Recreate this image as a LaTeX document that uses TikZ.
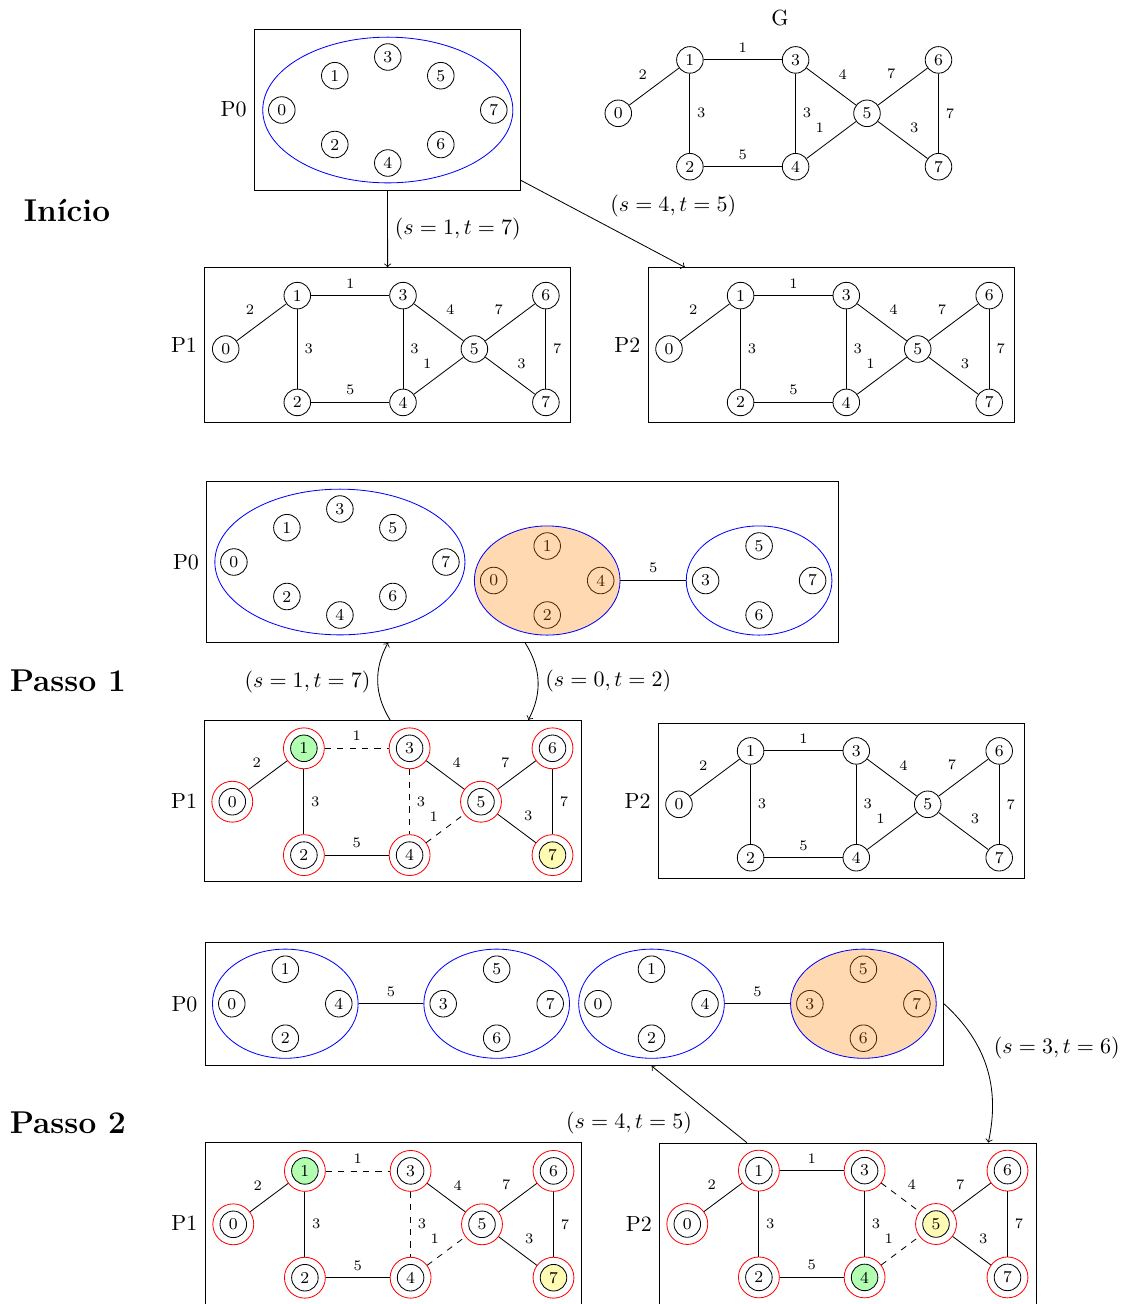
\documentclass[tikz,border=0pt]{standalone}
\usepackage{graphicx}
\usetikzlibrary{shapes.geometric}

% The weighted graph: vertex 0 at the scope origin, names #1-0 ... #1-7
\newcommand\netgraph[1]{%
  \node[gv,gv0] (#1-0) at (0,0) {0};
  \node[gv,gv1] (#1-1) at (71.6,-53.4) {1};
  \node[gv,gv2] (#1-2) at (71.6,53.4) {2};
  \node[gv,gv3] (#1-3) at (177.3,-53.4) {3};
  \node[gv,gv4] (#1-4) at (177.3,53.4) {4};
  \node[gv,gv5] (#1-5) at (248.7,0) {5};
  \node[gv,gv6] (#1-6) at (320.2,-53.4) {6};
  \node[gv,gv7] (#1-7) at (320.2,53.4) {7};
  \draw[ge,ge01] (#1-0) -- node[wt,above left] {2} (#1-1);
  \draw[ge,ge13] (#1-1) -- node[wt,above] {1} (#1-3);
  \draw[ge,ge12] (#1-1) -- node[wt,right] {3} (#1-2);
  \draw[ge,ge24] (#1-2) -- node[wt,above] {5} (#1-4);
  \draw[ge,ge34] (#1-3) -- node[wt,right] {3} (#1-4);
  \draw[ge,ge35] (#1-3) -- node[wt,above right] {4} (#1-5);
  \draw[ge,ge45] (#1-4) -- node[wt,above left] {1} (#1-5);
  \draw[ge,ge56] (#1-5) -- node[wt,above left] {7} (#1-6);
  \draw[ge,ge57] (#1-5) -- node[wt,above right] {3} (#1-7);
  \draw[ge,ge67] (#1-6) -- node[wt,right] {7} (#1-7);
}

% A single component holding all eight vertices
\newcommand\bigcluster[1]{%
  \node[gv] (#1-0) at (-106,0) {0};
  \node[gv] (#1-1) at (-53,-34.3) {1};
  \node[gv] (#1-2) at (-53,34.5) {2};
  \node[gv] (#1-3) at (0,-53) {3};
  \node[gv] (#1-4) at (0,53) {4};
  \node[gv] (#1-5) at (53,-34.3) {5};
  \node[gv] (#1-6) at (53,34.5) {6};
  \node[gv] (#1-7) at (106,0) {7};
  \node[bigset] (#1) at (0,0) {};
}
% Component {0,1,2,4}
\newcommand\lowcluster[2]{%
  \node[gv] (#1-0) at (-53.5,0) {0};
  \node[gv] (#1-1) at (0,-34.5) {1};
  \node[gv] (#1-2) at (0,34.5) {2};
  \node[gv] (#1-4) at (53.5,0) {4};
  \node[smallset,#2] (#1) at (0,0) {};
}
% Component {3,5,6,7}
\newcommand\highcluster[2]{%
  \node[gv] (#1-3) at (-53.5,0) {3};
  \node[gv] (#1-5) at (0,-34.5) {5};
  \node[gv] (#1-6) at (0,34.5) {6};
  \node[gv] (#1-7) at (53.5,0) {7};
  \node[smallset,#2] (#1) at (0,0) {};
}

\newcommand\labelfont{\fontsize{10.55}{12.7}\selectfont}
\newcommand\phasefont{\fontsize{15.2}{18}\selectfont\bfseries}
\newcommand\pair[2]{\scalebox{1.06}{$(s=#1,t=#2)$}}

\begin{document}
\begin{tikzpicture}[x=0.4818pt, y=-0.4818pt,
  gv/.style={circle, draw, minimum size=12.8pt, inner sep=0pt, font=\footnotesize},
  gring/.style={outer sep=3.6pt,
    label={[circle, draw=red, minimum size=19.7pt, inner sep=0pt, outer sep=0pt]center:{}}},
  gv0/.style={}, gv1/.style={}, gv2/.style={}, gv3/.style={},
  gv4/.style={}, gv5/.style={}, gv6/.style={}, gv7/.style={},
  ge/.style={draw},
  ge01/.style={}, ge12/.style={}, ge13/.style={}, ge24/.style={}, ge34/.style={},
  ge35/.style={}, ge45/.style={}, ge56/.style={}, ge57/.style={}, ge67/.style={},
  wt/.style={font=\scriptsize},
  pbox/.style={draw, rectangle, inner sep=0pt},
  bigset/.style={ellipse, draw=blue, minimum width=120.5pt, minimum height=70.2pt, inner sep=0pt},
  smallset/.style={ellipse, draw=blue, minimum width=70.2pt, minimum height=52.6pt, inner sep=0pt},
  chosen/.style={fill=orange, fill opacity=0.3},
  pname/.style={left, font=\labelfont},
  gname/.style={font=\labelfont},
  stepnote/.style={font=\normalsize},
  phase/.style={anchor=base west, inner sep=0pt, font=\phasefont},
  arr/.style={->},
  picked/.style={fill=green!30},
  target/.style={fill=yellow!30},
  ringed/.style={gv/.append style={gring}}
]
\useasboundingbox (0,0) rectangle (1123,1304);

% ---------- Início ----------
\node[phase] (tInicio) at (23.5,221.5) {Início};

\node[pbox, minimum width=128.3pt, minimum height=77.4pt] (I-P0) at (387.5,109.75) {};
\node[pname] (I-P0-name) at (I-P0.west) {P0};
\begin{scope}[shift={(387.8,110)}]
  \bigcluster{I-all}
\end{scope}

\node[gname] (Gtitle) at (780,18.3) {G};
\begin{scope}[shift={(618.3,113.3)}]
  \netgraph{G}
\end{scope}

\node[pbox, minimum width=176.3pt, minimum height=74.3pt] (I-P1) at (387.65,344.8) {};
\node[pname] (I-P1-name) at (I-P1.west) {P1};
\begin{scope}[shift={(225.7,349)}]
  \netgraph{IP1}
\end{scope}

\node[pbox, minimum width=176.3pt, minimum height=74.3pt] (I-P2) at (830.95,344.8) {};
\node[pname] (I-P2-name) at (I-P2.west) {P2};
\begin{scope}[shift={(669,349)}]
  \netgraph{IP2}
\end{scope}

\draw[arr] (I-P0) -- node[stepnote,right] {\pair{1}{7}} (I-P1);
\draw[arr] (I-P0) -- node[stepnote,above right] {\pair{4}{5}} (I-P2);

% ---------- Passo 1 ----------
\node[phase] (tPasso1) at (9.5,691) {Passo 1};

\node[pbox, minimum width=304.6pt, minimum height=77.5pt] (S1-P0) at (522.75,561.85) {};
\node[pname] (S1-P0-name) at (S1-P0.west) {P0};
\begin{scope}[shift={(339.9,562)}]
  \bigcluster{S1-all}
\end{scope}
\begin{scope}[shift={(547.2,580.5)}]
  \lowcluster{S1-low}{chosen}
\end{scope}
\begin{scope}[shift={(759.1,580.5)}]
  \highcluster{S1-high}{}
\end{scope}
\draw (S1-low) -- node[wt,above] {5} (S1-high);

\node[pbox, minimum width=181.4pt, minimum height=77.8pt] (S1-P1) at (393,801.15) {};
\node[pname] (S1-P1-name) at (S1-P1.west) {P1};
\begin{scope}[shift={(232.3,801.7)}, ringed, gv1/.style={picked}, gv7/.style={target},
    ge13/.style={dashed}, ge34/.style={dashed}, ge45/.style={dashed}]
  \netgraph{AP1}
\end{scope}

\node[pbox, minimum width=176.3pt, minimum height=74.3pt] (S1-P2) at (841.3,800.8) {};
\node[pname] (S1-P2-name) at (S1-P2.west) {P2};
\begin{scope}[shift={(679,804.3)}]
  \netgraph{AP2}
\end{scope}

\draw[arr] ([xshift=-1.4pt]S1-P1.north) to[bend left] node[stepnote,left] {\pair{1}{7}} ([xshift=-64.9pt]S1-P0.south);
\draw[arr] ([xshift=1.1pt]S1-P0.south) to[bend left] node[stepnote,right] {\pair{0}{2}} ([xshift=65.2pt]S1-P1.north);

% ---------- Passo 2 ----------
\node[phase] (tPasso2) at (9.5,1133) {Passo 2};

\node[pbox, minimum width=355.8pt, minimum height=59.5pt] (S2-P0) at (574.4,1003.85) {};
\node[pname] (S2-P0-name) at (S2-P0.west) {P0};
\begin{scope}[shift={(285.3,1003.7)}]
  \lowcluster{S2-a}{}
\end{scope}
\begin{scope}[shift={(496.7,1003.7)}]
  \highcluster{S2-b}{}
\end{scope}
\begin{scope}[shift={(651.5,1003.7)}]
  \lowcluster{S2-c}{}
\end{scope}
\begin{scope}[shift={(863.4,1003.7)}]
  \highcluster{S2-d}{chosen}
\end{scope}
\draw (S2-a) -- node[wt,above] {5} (S2-b);
\draw (S2-c) -- node[wt,above] {5} (S2-d);

\node[pbox, minimum width=181.4pt, minimum height=77.8pt] (S2-P1) at (393.3,1223.45) {};
\node[pname] (S2-P1-name) at (S2-P1.west) {P1};
\begin{scope}[shift={(233.3,1224.3)}, ringed, gv1/.style={picked}, gv7/.style={target},
    ge13/.style={dashed}, ge34/.style={dashed}, ge45/.style={dashed}]
  \netgraph{BP1}
\end{scope}

\node[pbox, minimum width=181.4pt, minimum height=77.8pt] (S2-P2) at (847.7,1223.85) {};
\node[pname] (S2-P2-name) at (S2-P2.west) {P2};
\begin{scope}[shift={(687.3,1224)}, ringed, gv4/.style={picked}, gv5/.style={target},
    ge35/.style={dashed}, ge45/.style={dashed}]
  \netgraph{BP2}
\end{scope}

\draw[arr] (S2-P0.east) to[bend left] node[stepnote,above right] {\pair{3}{6}} (S2-P2.30);
\draw[arr] (S2-P2) -- node[stepnote,below left] {\pair{4}{5}} (S2-P0);
\end{tikzpicture}
\end{document}
